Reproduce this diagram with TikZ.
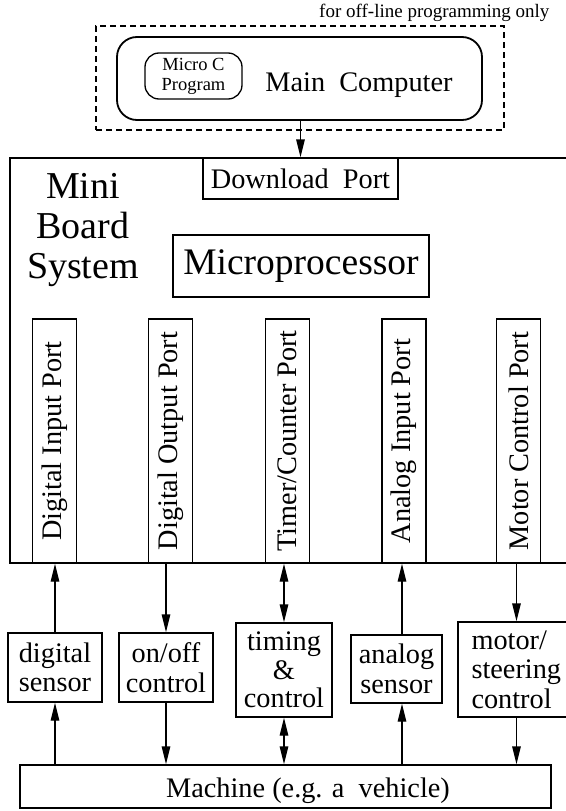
\documentclass[tikz,border=0pt]{standalone}
\usepackage{fontspec}
\usepackage{graphicx}
\setmainfont{Liberation Serif}
\usetikzlibrary{arrows.meta}
\newcommand\fsz[2]{\fontsize{#1}{#2}\selectfont}
\tikzset{
  headtip/.tip={Triangle[length=18pt,width=8.5pt]}
}
\begin{document}
\begin{tikzpicture}[x=1pt,y=-1pt,
  box/.style={draw, line width=1.3pt, inner sep=0pt, font=\fsz{28.3}{29.5}, align=center},
  port/.style={box, minimum width=44pt, minimum height=244pt},
  arr/.style={line width=1.3pt, -headtip},
  darr/.style={line width=1.3pt, headtip-headtip},
  dashbox/.style={draw, line width=1.2pt, dash pattern=on 6pt off 4pt, inner sep=0pt}]
\useasboundingbox (0,0) rectangle (565,811);

% off-line programming part
\node[font=\fsz{19}{21}, anchor=base east] (note) at (553,17) {for off-line programming only};
\node[dashbox, minimum width=408pt, minimum height=104pt] (offline) at (300,78) {};
\node[draw, line width=1.8pt, rounded corners=20pt, minimum width=365pt, minimum height=83pt, inner sep=0pt] (mc) at (299.5,78.5) {};
\node[draw, line width=1.3pt, rounded corners=14pt, minimum width=97pt, minimum height=46pt, inner sep=0pt,
      font=\fsz{18.5}{20}, align=center] (prog) at (193.5,76) {Micro C\\Program};
\node[font=\fsz{28.3}{30}, anchor=base] (mctext) at (359,91) {Main\ \ Computer};

% mini board
\node[draw, line width=1.3pt, minimum width=565pt, minimum height=405pt, inner sep=0pt] (board) at (292.5,360.5) {};
\node[box] (dl) at (300.5,178.5) [minimum width=195pt, minimum height=41pt] {Download\ \ Port};
\draw[arr] (mc.south -| dl.north) -- (dl.north);
\node[font=\fsz{38}{40}, align=center, inner sep=0pt] (mbs) at (83,230) {Mini\\Board\\System};
\node[box, line width=2.2pt, minimum width=256pt, minimum height=62pt, font=\fsz{37.5}{40}] (mp) at (301,266) {Microprocessor};

% ports
\node[port] (pdi) at (54.5,441) {\rotatebox{90}{Digital Input Port}};
\node[port] (pdo) at (170.5,441) {\rotatebox{90}{Digital Output Port}};
\node[port] (ptc) at (287.5,441) {\rotatebox{90}{Timer/Counter Port}};
\node[port] (pai) at (404,441) {\rotatebox{90}{Analog Input Port}};
\node[port] (pmc) at (518.5,441) {\rotatebox{90}{Motor Control Port}};

% interface devices
\node[box, minimum width=94pt, minimum height=69pt] (ds) at (55,667.5) {digital\\sensor};
\node[box, minimum width=94pt, minimum height=69pt] (oc) at (166,667.5) {on/off\\control};
\node[box, minimum width=96pt, minimum height=94pt, font=\fsz{28.3}{28.5}] (tc) at (284,670) {timing\\\&\\control};
\node[box, minimum width=91pt, minimum height=68pt] (as) at (396.5,669) {analog\\sensor};
\node[box, minimum width=117pt, minimum height=95pt, text width=90pt, align=left] (ms) at (516.5,669.5) {motor/\\steering\\control};

% machine
\node[draw, line width=1.3pt, minimum width=531pt, minimum height=43pt, inner sep=0pt] (mach) at (285.5,786.5) {};
\node[font=\fsz{28.3}{30}, anchor=base] (machtext) at (308,797) {Machine (e.g. a\ \ vehicle)};

% signal paths board <-> devices
\draw[arr] (ds.north) -- (ds.north |- board.south);
\draw[arr] (oc.north |- board.south) -- (oc.north);
\draw[darr] (tc.north |- board.south) -- (tc.north);
\draw[arr] ([xshift=5.5pt]as.north) -- ([xshift=5.5pt]as.north |- board.south);
\draw[arr] (ms.north |- board.south) -- (ms.north);

% signal paths devices <-> machine
\draw[arr] (ds.south |- mach.north) -- (ds.south);
\draw[arr] (oc.south) -- (oc.south |- mach.north);
\draw[darr] (tc.south) -- (tc.south |- mach.north);
\draw[arr] ([xshift=5.5pt]as.south |- mach.north) -- ([xshift=5.5pt]as.south);
\draw[arr] (ms.south) -- (ms.south |- mach.north);
\end{tikzpicture}
\end{document}
